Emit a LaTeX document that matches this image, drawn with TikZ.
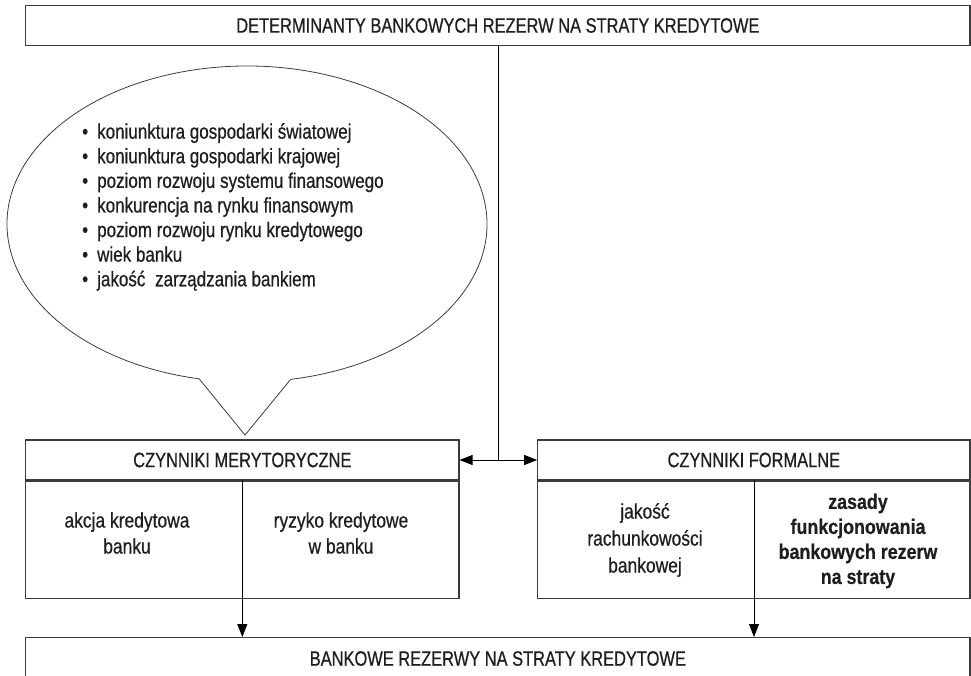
\documentclass[tikz,border=0pt]{standalone}
\usepackage{fontspec}
\setmainfont{Liberation Sans}[FakeStretch=0.79,FakeBold=0.6]
\newfontfamily\bodyfont{Liberation Sans}[FakeStretch=0.83,FakeBold=0.6]
\newfontfamily\listfont{Liberation Sans}[FakeStretch=0.81,FakeBold=0.6]
\newfontfamily\boldfont{Liberation Sans Bold}[FakeStretch=0.85,FakeBold=0.4]
\usetikzlibrary{arrows.meta}
\definecolor{boxgray}{HTML}{3C3C3C}
\definecolor{txt}{HTML}{1E1E1E}
\begin{document}
\begin{tikzpicture}[x=1pt,y=1pt,
  box/.style={draw=boxgray, line width=1.1pt, inner sep=0pt, text=txt},
  hdr/.style={font=\fontsize{20.8}{24}\selectfont},
  body/.style={font=\bodyfont\fontsize{21}{26}\selectfont, align=center, text=txt, inner sep=0pt},
  conn/.style={draw=black, line width=0.8pt},
  tip/.style={-{Triangle[length=13pt,width=10pt]}},
  dtip/.style={{Triangle[length=13pt,width=10pt]}-{Triangle[length=13pt,width=10pt]}}
]
\useasboundingbox (0,0) rectangle (971,-676);
\clip (0,0) rectangle (971,-676);

% top box
\node[box,hdr,minimum width=944.3pt,minimum height=39.6pt] (top) at (497.85,-25.5)
  {DETERMINANTY BANKOWYCH REZERW NA STRATY KREDYTOWE};

% speech bubble
\coordinate (bc) at (247,-224);
\coordinate (btip) at (245,-435);
\draw[draw=boxgray, line width=0.8pt] (bc) ++(-79.5:240pt and 158pt)
  arc[start angle=-79.5, end angle=258.5, x radius=240, y radius=158] -- (btip) -- cycle;
\node[anchor=north west, align=left, inner sep=0pt, text=txt,
      font=\listfont\fontsize{21}{24.6}\selectfont] (list) at (82,-123)
  {\makebox[15pt][l]{\textbullet}koniunktura gospodarki światowej\\
   \makebox[15pt][l]{\textbullet}koniunktura gospodarki krajowej\\
   \makebox[15pt][l]{\textbullet}poziom rozwoju systemu finansowego\\
   \makebox[15pt][l]{\textbullet}konkurencja na rynku finansowym\\
   \makebox[15pt][l]{\textbullet}poziom rozwoju rynku kredytowego\\
   \makebox[15pt][l]{\textbullet}wiek banku\\
   \makebox[15pt][l]{\textbullet}jakość\hspace{5pt} zarządzania bankiem};

% left box
\node[box,hdr,minimum width=433.3pt,minimum height=40pt] (mh) at (242.35,-460) {CZYNNIKI MERYTORYCZNE};
\node[box,minimum width=433.3pt,minimum height=117pt,anchor=north] (mb) at (mh.south) {};
\node[body] (ma) at (127,-533) {akcja kredytowa\\banku};
\node[body] (mr) at (341,-533) {ryzyko kredytowe\\w banku};

% right box
\node[box,hdr,minimum width=432.3pt,minimum height=40pt] (rh) at (753.85,-460) {CZYNNIKI FORMALNE};
\node[box,minimum width=432.3pt,minimum height=117pt,anchor=north] (rb) at (rh.south) {};
\node[body,font=\bodyfont\fontsize{21}{27}\selectfont] (fa) at (645,-540) {jakość\\rachunkowości\\bankowej};
\node[body,font=\boldfont\fontsize{21}{25}\selectfont] (fz) at (858,-541)
  {zasady\\funkcjonowania\\bankowych rezerw\\na straty};

% bottom box
\node[box,hdr,minimum width=944.3pt,minimum height=42pt,anchor=north] (bot) at (497.85,-637)
  {BANKOWE REZERWY NA STRATY KREDYTOWE};

% connectors
\coordinate (j) at (498.7,-460);
\draw[conn] (top.south -| j) -- (j);
\draw[conn,dtip] (mh.east) -- (rh.west);
\coordinate (md) at (242.3,-480);
\coordinate (fd) at (754,-480);
\draw[conn,tip] (md) -- (md |- bot.north);
\draw[conn,tip] (fd) -- (fd |- bot.north);
\end{tikzpicture}
\end{document}
